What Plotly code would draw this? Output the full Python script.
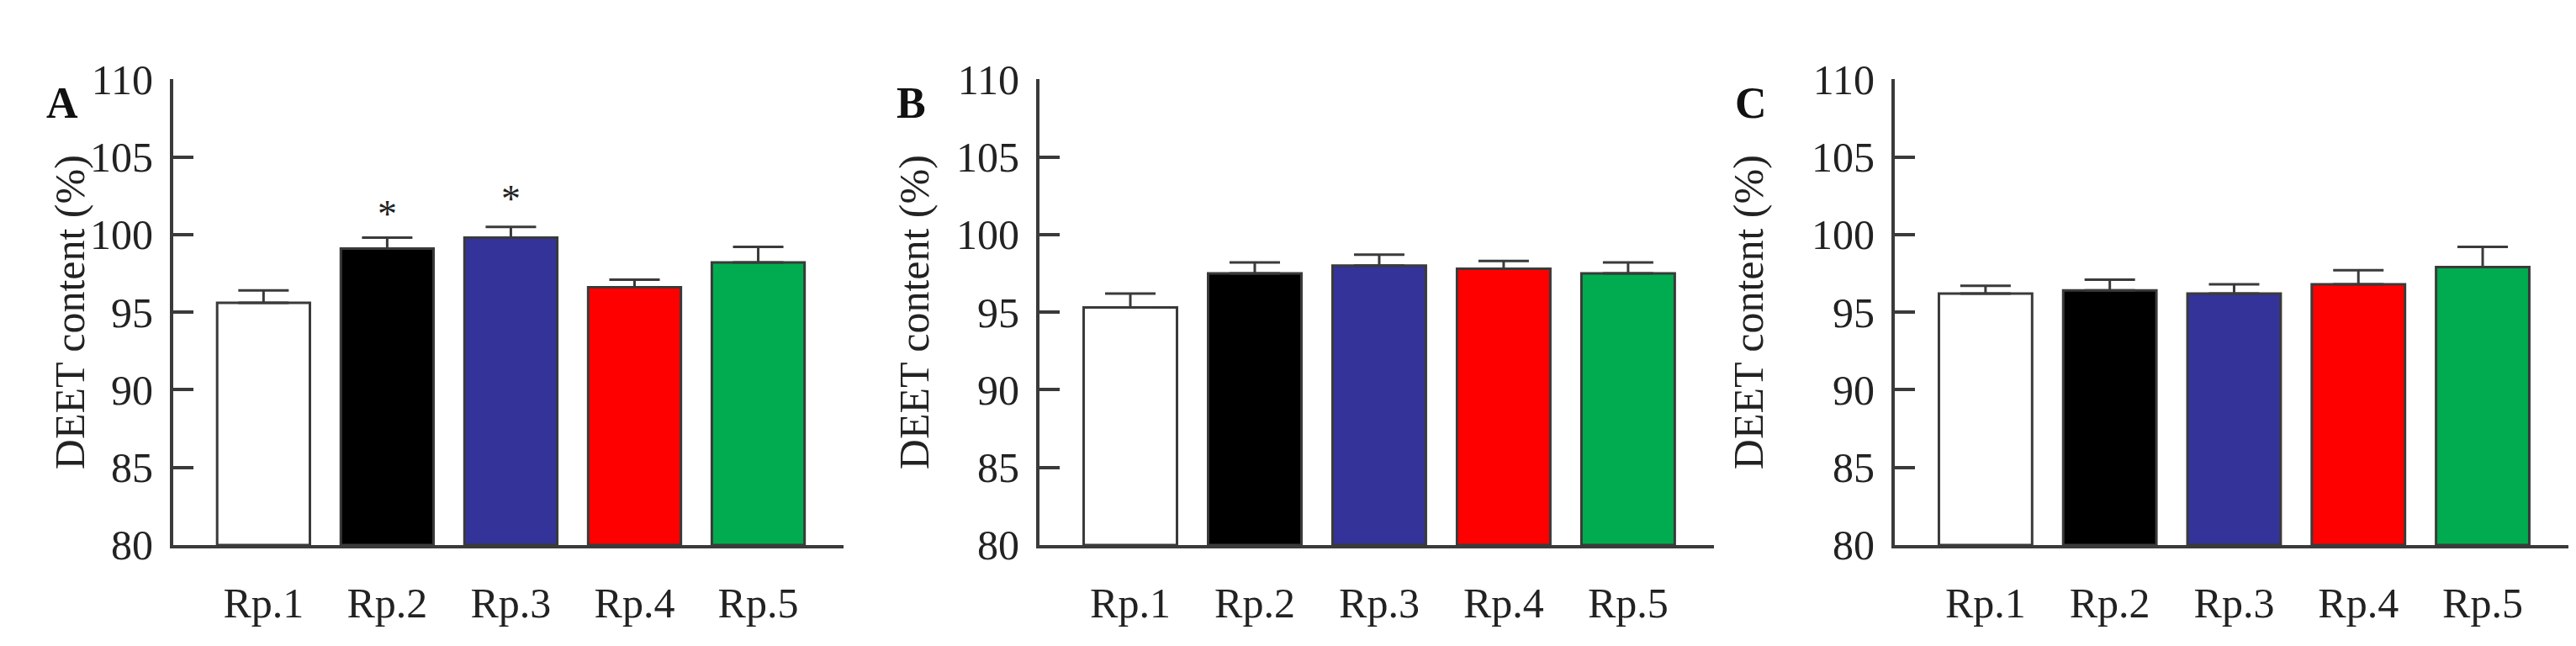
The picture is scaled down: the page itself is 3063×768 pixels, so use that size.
import plotly.graph_objects as go

W, H = 3063, 768

categories = ["Rp.1", "Rp.2", "Rp.3", "Rp.4", "Rp.5"]
colors = ["#ffffff", "#000000", "#333399", "#ff0000", "#00ac4f"]

panel_a = [95.6, 99.1, 99.8, 96.6, 98.2]
err_a = [0.8, 0.7, 0.7, 0.5, 1.0]
panel_b = [95.3, 97.5, 98.0, 97.8, 97.5]
err_b = [0.9, 0.7, 0.7, 0.5, 0.7]
panel_c = [96.2, 96.4, 96.2, 96.8, 97.9]
err_c = [0.5, 0.7, 0.6, 0.9, 1.3]

# significance marks (panel A)
star_cats = ["Rp.2", "Rp.3"]
star_y = [101.3, 102.3]

panel_letters = ["A", "B", "C"]
yticks = [80, 85, 90, 95, 100, 105, 110]

FONT = "Liberation Serif"
AXC = "#3a3a3a"

# pixel layout of each panel: (axis x, right end, y-title x, letter x)
panels = [(198, 995, 45, 45), (1228, 2030, 1079, 1075), (2245, 3046, 2101, 2095)]
y_top, y_bot = 63, 661

fig = go.Figure()
for i, (vals, errs) in enumerate([(panel_a, err_a), (panel_b, err_b), (panel_c, err_c)]):
    n = "" if i == 0 else str(i + 1)
    fig.add_trace(go.Bar(
        x=categories, y=[v - 80 for v in vals], base=80,
        marker=dict(color=colors, line=dict(color=AXC, width=3)),
        width=0.75,
        error_y=dict(type="data", array=errs, arrayminus=[0] * 5, symmetric=False,
                     color=AXC, thickness=3, width=30),
        xaxis="x" + n, yaxis="y" + n, showlegend=False))
    x0, x1, tx, lx = panels[i]
    fig.update_layout(**{
        "xaxis" + n: dict(domain=[x0 / W, x1 / W], anchor="y" + n,
                          range=[-0.73, 4.69], showline=True, linecolor=AXC, linewidth=4,
                          ticks="outside", ticklen=22, tickcolor="rgba(0,0,0,0)",
                          tickfont=dict(family=FONT, size=50, color="#222")),
        "yaxis" + n: dict(domain=[1 - y_bot / H, 1 - y_top / H], anchor="x" + n,
                          range=[80, 110], tickvals=yticks, showline=True, linecolor=AXC,
                          linewidth=4, ticks="inside", ticklen=24, tickwidth=4, tickcolor=AXC,
                          showgrid=False, zeroline=False, ticklabelstandoff=10,
                          tickfont=dict(family=FONT, size=50, color="#222")),
    })
    fig.add_annotation(text="DEET content (%)", textangle=-90, xref="paper", yref="paper",
                       x=tx / W, y=1 - (y_top + y_bot) / 2 / H, showarrow=False,
                       font=dict(family=FONT, size=50, color="#222"))
    fig.add_annotation(text="<b>" + panel_letters[i] + "</b>", xref="paper", yref="paper",
                       x=lx / W, y=1 - 60 / H, showarrow=False,
                       font=dict(family=FONT, size=52, color="#111"))

for c, y in zip(star_cats, star_y):
    fig.add_annotation(text="*", x=c, y=y, xref="x", yref="y", showarrow=False,
                       font=dict(family=FONT, size=46, color="#222"))

fig.update_layout(width=W, height=H, margin=dict(l=0, r=0, t=0, b=0),
                  plot_bgcolor="white", paper_bgcolor="white", bargap=0.25)
fig.write_html("out.html")
